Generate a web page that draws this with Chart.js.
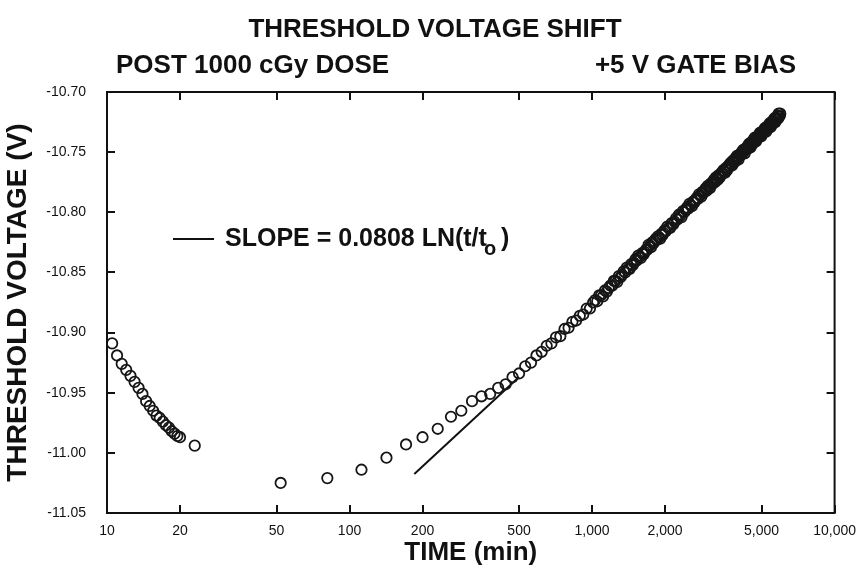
<!DOCTYPE html>
<html>
<head>
<meta charset="utf-8">
<title>Threshold Voltage Shift</title>
<script src="https://cdn.jsdelivr.net/npm/chart.js@4.4.1/dist/chart.umd.min.js"></script>
<style>
  html, body { margin: 0; padding: 0; background: #fff; }
  canvas { display: block; }
</style>
</head>
<body>
<canvas id="vtChart" width="866" height="566"></canvas>
<script>
// measured points, time after dose (min) and threshold voltage (V)
// first part: up to ~1000 min
const earlyTime = [
  10.5, 11, 11.5, 12, 12.5, 13, 13.5, 14, 14.5, 15, 15.5, 16, 16.5, 17, 17.5, 18, 18.5, 19, 19.5, 20,
  23, 52, 81, 112, 142, 171, 200, 231, 262, 289,
  320, 350, 380, 410, 440, 470, 500, 530, 560, 590, 620, 650, 680, 710, 740, 770, 800, 830, 860, 890,
  920, 950, 980, 1010
];
const earlyVolts = [
  -10.909, -10.919, -10.926, -10.931, -10.936, -10.941, -10.946, -10.951, -10.957, -10.961,
  -10.965, -10.969, -10.971, -10.974, -10.977, -10.979, -10.982, -10.984, -10.986, -10.987,
  -10.994, -11.025, -11.021, -11.014, -11.004, -10.993, -10.987, -10.980, -10.970, -10.965,
  -10.957, -10.953, -10.951, -10.946, -10.943, -10.937, -10.934, -10.928, -10.925, -10.919,
  -10.916, -10.911, -10.909, -10.904, -10.903, -10.897, -10.896, -10.891, -10.890, -10.886,
  -10.885, -10.880, -10.880, -10.875
];
// second part: the dense band, ~1000 to 6000 min
const lateTime = [
  1030, 1050, 1070, 1090, 1110, 1130, 1150, 1170, 1190, 1210, 1230, 1250, 1270, 1290, 1310, 1330,
  1350, 1370, 1390, 1410, 1430, 1450, 1470, 1490, 1510, 1530, 1550, 1570, 1590, 1610, 1630, 1650,
  1670, 1690, 1710, 1730, 1750, 1770, 1790, 1810, 1830, 1850, 1870, 1890, 1910, 1930, 1950, 1970,
  1990, 2010,
  2040, 2070, 2100, 2130, 2160, 2190, 2220, 2250, 2280, 2310, 2340, 2370, 2400, 2430, 2460, 2490,
  2520, 2550, 2580, 2610, 2640, 2670, 2700, 2730, 2760, 2790, 2820, 2850, 2880, 2910, 2940, 2970,
  3000, 3030, 3060, 3090, 3120, 3150, 3180, 3210, 3240, 3270, 3300, 3330, 3360, 3390, 3420, 3450,
  3480, 3510, 3540, 3570, 3600, 3630, 3660, 3690, 3720, 3750, 3780, 3810, 3840, 3870, 3900, 3930,
  3960, 3990, 4020, 4050, 4080, 4110, 4140, 4170, 4200, 4230, 4260, 4290, 4320, 4350, 4380, 4410,
  4440, 4470, 4500, 4530, 4560, 4590, 4620, 4650, 4680, 4710, 4740, 4770, 4800, 4830, 4860, 4890,
  4920, 4950, 4980, 5010, 5040, 5070, 5100, 5130, 5160, 5190, 5220, 5250, 5280, 5310, 5340, 5370,
  5400, 5430, 5460, 5490, 5520, 5550, 5580, 5610, 5640, 5670, 5700, 5730, 5760, 5790, 5820, 5850,
  5880, 5910, 5940, 5970
];
const lateVolts = [
  -10.873, -10.874, -10.869, -10.869, -10.870, -10.865, -10.866, -10.863, -10.861, -10.861,
  -10.857, -10.857, -10.858, -10.853, -10.854, -10.852, -10.849, -10.850, -10.846, -10.847,
  -10.847, -10.843, -10.844, -10.842, -10.839, -10.840, -10.836, -10.837, -10.838, -10.834,
  -10.835, -10.833, -10.831, -10.831, -10.827, -10.828, -10.829, -10.825, -10.826, -10.824,
  -10.822, -10.823, -10.820, -10.821, -10.822, -10.818, -10.819, -10.817, -10.815, -10.816,
  -10.812, -10.813, -10.813, -10.809, -10.810, -10.808, -10.805, -10.806, -10.802, -10.803,
  -10.804, -10.799, -10.800, -10.798, -10.796, -10.797, -10.793, -10.794, -10.795, -10.791,
  -10.792, -10.790, -10.788, -10.789, -10.785, -10.786, -10.787, -10.783, -10.784, -10.782,
  -10.780, -10.782, -10.778, -10.779, -10.780, -10.776, -10.777, -10.775, -10.773, -10.775,
  -10.771, -10.772, -10.773, -10.769, -10.771, -10.769, -10.767, -10.768, -10.765, -10.766,
  -10.767, -10.763, -10.765, -10.763, -10.761, -10.762, -10.759, -10.760, -10.761, -10.757,
  -10.759, -10.757, -10.755, -10.757, -10.753, -10.754, -10.756, -10.752, -10.753, -10.752,
  -10.750, -10.751, -10.748, -10.749, -10.751, -10.747, -10.748, -10.747, -10.745, -10.747,
  -10.743, -10.744, -10.746, -10.742, -10.744, -10.742, -10.740, -10.742, -10.738, -10.740,
  -10.741, -10.738, -10.739, -10.738, -10.736, -10.737, -10.734, -10.735, -10.737, -10.733,
  -10.735, -10.733, -10.732, -10.733, -10.730, -10.731, -10.733, -10.729, -10.731, -10.729,
  -10.728, -10.729, -10.726, -10.727, -10.729, -10.725, -10.727, -10.725, -10.724, -10.725,
  -10.722, -10.723, -10.725, -10.721, -10.723, -10.722, -10.720, -10.722, -10.718, -10.720,
  -10.720, -10.718
];

// fitted log line, drawn where it shows below the points
const fitTime = [185, 500];
const fitVolts = [-11.0175, -10.937];

const xTickValues = [10, 20, 50, 100, 200, 500, 1000, 2000, 5000, 10000];
const yTickValues = [-11.05, -11.00, -10.95, -10.90, -10.85, -10.80, -10.75, -10.70];

const FONT = "'Liberation Sans', Arial, Helvetica, sans-serif";
const INK = '#111';

const timeMin = earlyTime.concat(lateTime);
const thresholdV = earlyVolts.concat(lateVolts);

// box around the plot, ticks pointing inward on all four sides
const framePlugin = {
  id: 'frame',
  afterDraw(chart) {
    const { ctx, chartArea: a, scales } = chart;
    const len = 8;
    ctx.save();
    ctx.strokeStyle = INK;
    ctx.lineWidth = 2;
    ctx.strokeRect(a.left, a.top, a.right - a.left, a.bottom - a.top);
    ctx.beginPath();
    xTickValues.forEach(v => {
      const px = Math.round(scales.x.getPixelForValue(v));
      ctx.moveTo(px, a.bottom); ctx.lineTo(px, a.bottom - len);
      ctx.moveTo(px, a.top); ctx.lineTo(px, a.top + len);
    });
    yTickValues.forEach(v => {
      const py = Math.round(scales.y.getPixelForValue(v));
      ctx.moveTo(a.left, py); ctx.lineTo(a.left + len, py);
      ctx.moveTo(a.right, py); ctx.lineTo(a.right - len, py);
    });
    ctx.stroke();
    ctx.restore();
  }
};

// headings and the slope key
const textPlugin = {
  id: 'labels',
  afterDraw(chart) {
    const { ctx, chartArea: a } = chart;
    ctx.save();
    ctx.fillStyle = INK;
    ctx.textBaseline = 'middle';
    ctx.font = `bold 26px ${FONT}`;
    ctx.textAlign = 'center';
    ctx.fillText('THRESHOLD VOLTAGE SHIFT', 435, 30);
    ctx.textAlign = 'left';
    ctx.fillText('POST 1000 cGy DOSE', 116, 66);
    ctx.textAlign = 'right';
    ctx.fillText('+5 V GATE BIAS', 796, 66);

    const kx = a.left + 66, ky = a.top + 147;
    ctx.strokeStyle = INK;
    ctx.lineWidth = 2;
    ctx.beginPath();
    ctx.moveTo(kx, ky); ctx.lineTo(kx + 41, ky);
    ctx.stroke();
    ctx.font = `bold 25px ${FONT}`;
    ctx.textAlign = 'left';
    const main = 'SLOPE = 0.0808 LN(t/t';
    ctx.fillText(main, kx + 52, ky);
    const w = ctx.measureText(main).width;
    ctx.font = `bold 20px ${FONT}`;
    ctx.fillText('o', kx + 52 + w - 3, ky + 10);
    ctx.font = `bold 25px ${FONT}`;
    ctx.fillText(')', kx + 52 + w + 14, ky);
    ctx.restore();
  }
};

new Chart(document.getElementById('vtChart'), {
  type: 'scatter',
  data: {
    datasets: [
      {
        type: 'line',
        data: fitTime.map((t, i) => ({ x: t, y: fitVolts[i] })),
        borderColor: INK,
        borderWidth: 2,
        pointRadius: 0,
        fill: false,
        order: 2
      },
      {
        data: timeMin.map((t, i) => ({ x: t, y: thresholdV[i] })),
        pointRadius: 5.2,
        borderWidth: 1.8,
        borderColor: '#161616',
        backgroundColor: 'rgba(0,0,0,0)',
        order: 1
      }
    ]
  },
  options: {
    responsive: false,
    animation: false,
    devicePixelRatio: 1,
    layout: { padding: { top: 92, right: 30, left: 0, bottom: 0 } },
    plugins: {
      legend: { display: false },
      tooltip: { enabled: false }
    },
    scales: {
      x: {
        type: 'logarithmic',
        min: 10,
        max: 10000,
        grid: { display: false, drawTicks: false },
        border: { display: false },
        afterBuildTicks: s => { s.ticks = xTickValues.map(v => ({ value: v })); },
        afterFit: s => { s.height = 53; },
        ticks: {
          autoSkip: false,
          maxRotation: 0,
          padding: 10,
          color: INK,
          font: { family: FONT, size: 14 },
          callback: v => Number(v).toLocaleString('en-US')
        },
        title: {
          display: true,
          text: 'TIME (min)',
          color: INK,
          font: { family: FONT, size: 26, weight: 'bold', lineHeight: 1 },
          padding: { top: 0, bottom: 0 }
        }
      },
      y: {
        min: -11.05,
        max: -10.70,
        grid: { display: false, drawTicks: false },
        border: { display: false },
        afterBuildTicks: s => { s.ticks = yTickValues.map(v => ({ value: v })); },
        afterFit: s => { s.width = 107; },
        ticks: {
          padding: 21,
          color: INK,
          font: { family: FONT, size: 14 },
          callback: v => Number(v).toFixed(2)
        },
        title: {
          display: true,
          text: 'THRESHOLD VOLTAGE (V)',
          color: INK,
          font: { family: FONT, size: 28, weight: 'bold', lineHeight: 1 },
          padding: { top: 4, bottom: 0 }
        }
      }
    }
  },
  plugins: [framePlugin, textPlugin]
});
</script>
</body>
</html>
